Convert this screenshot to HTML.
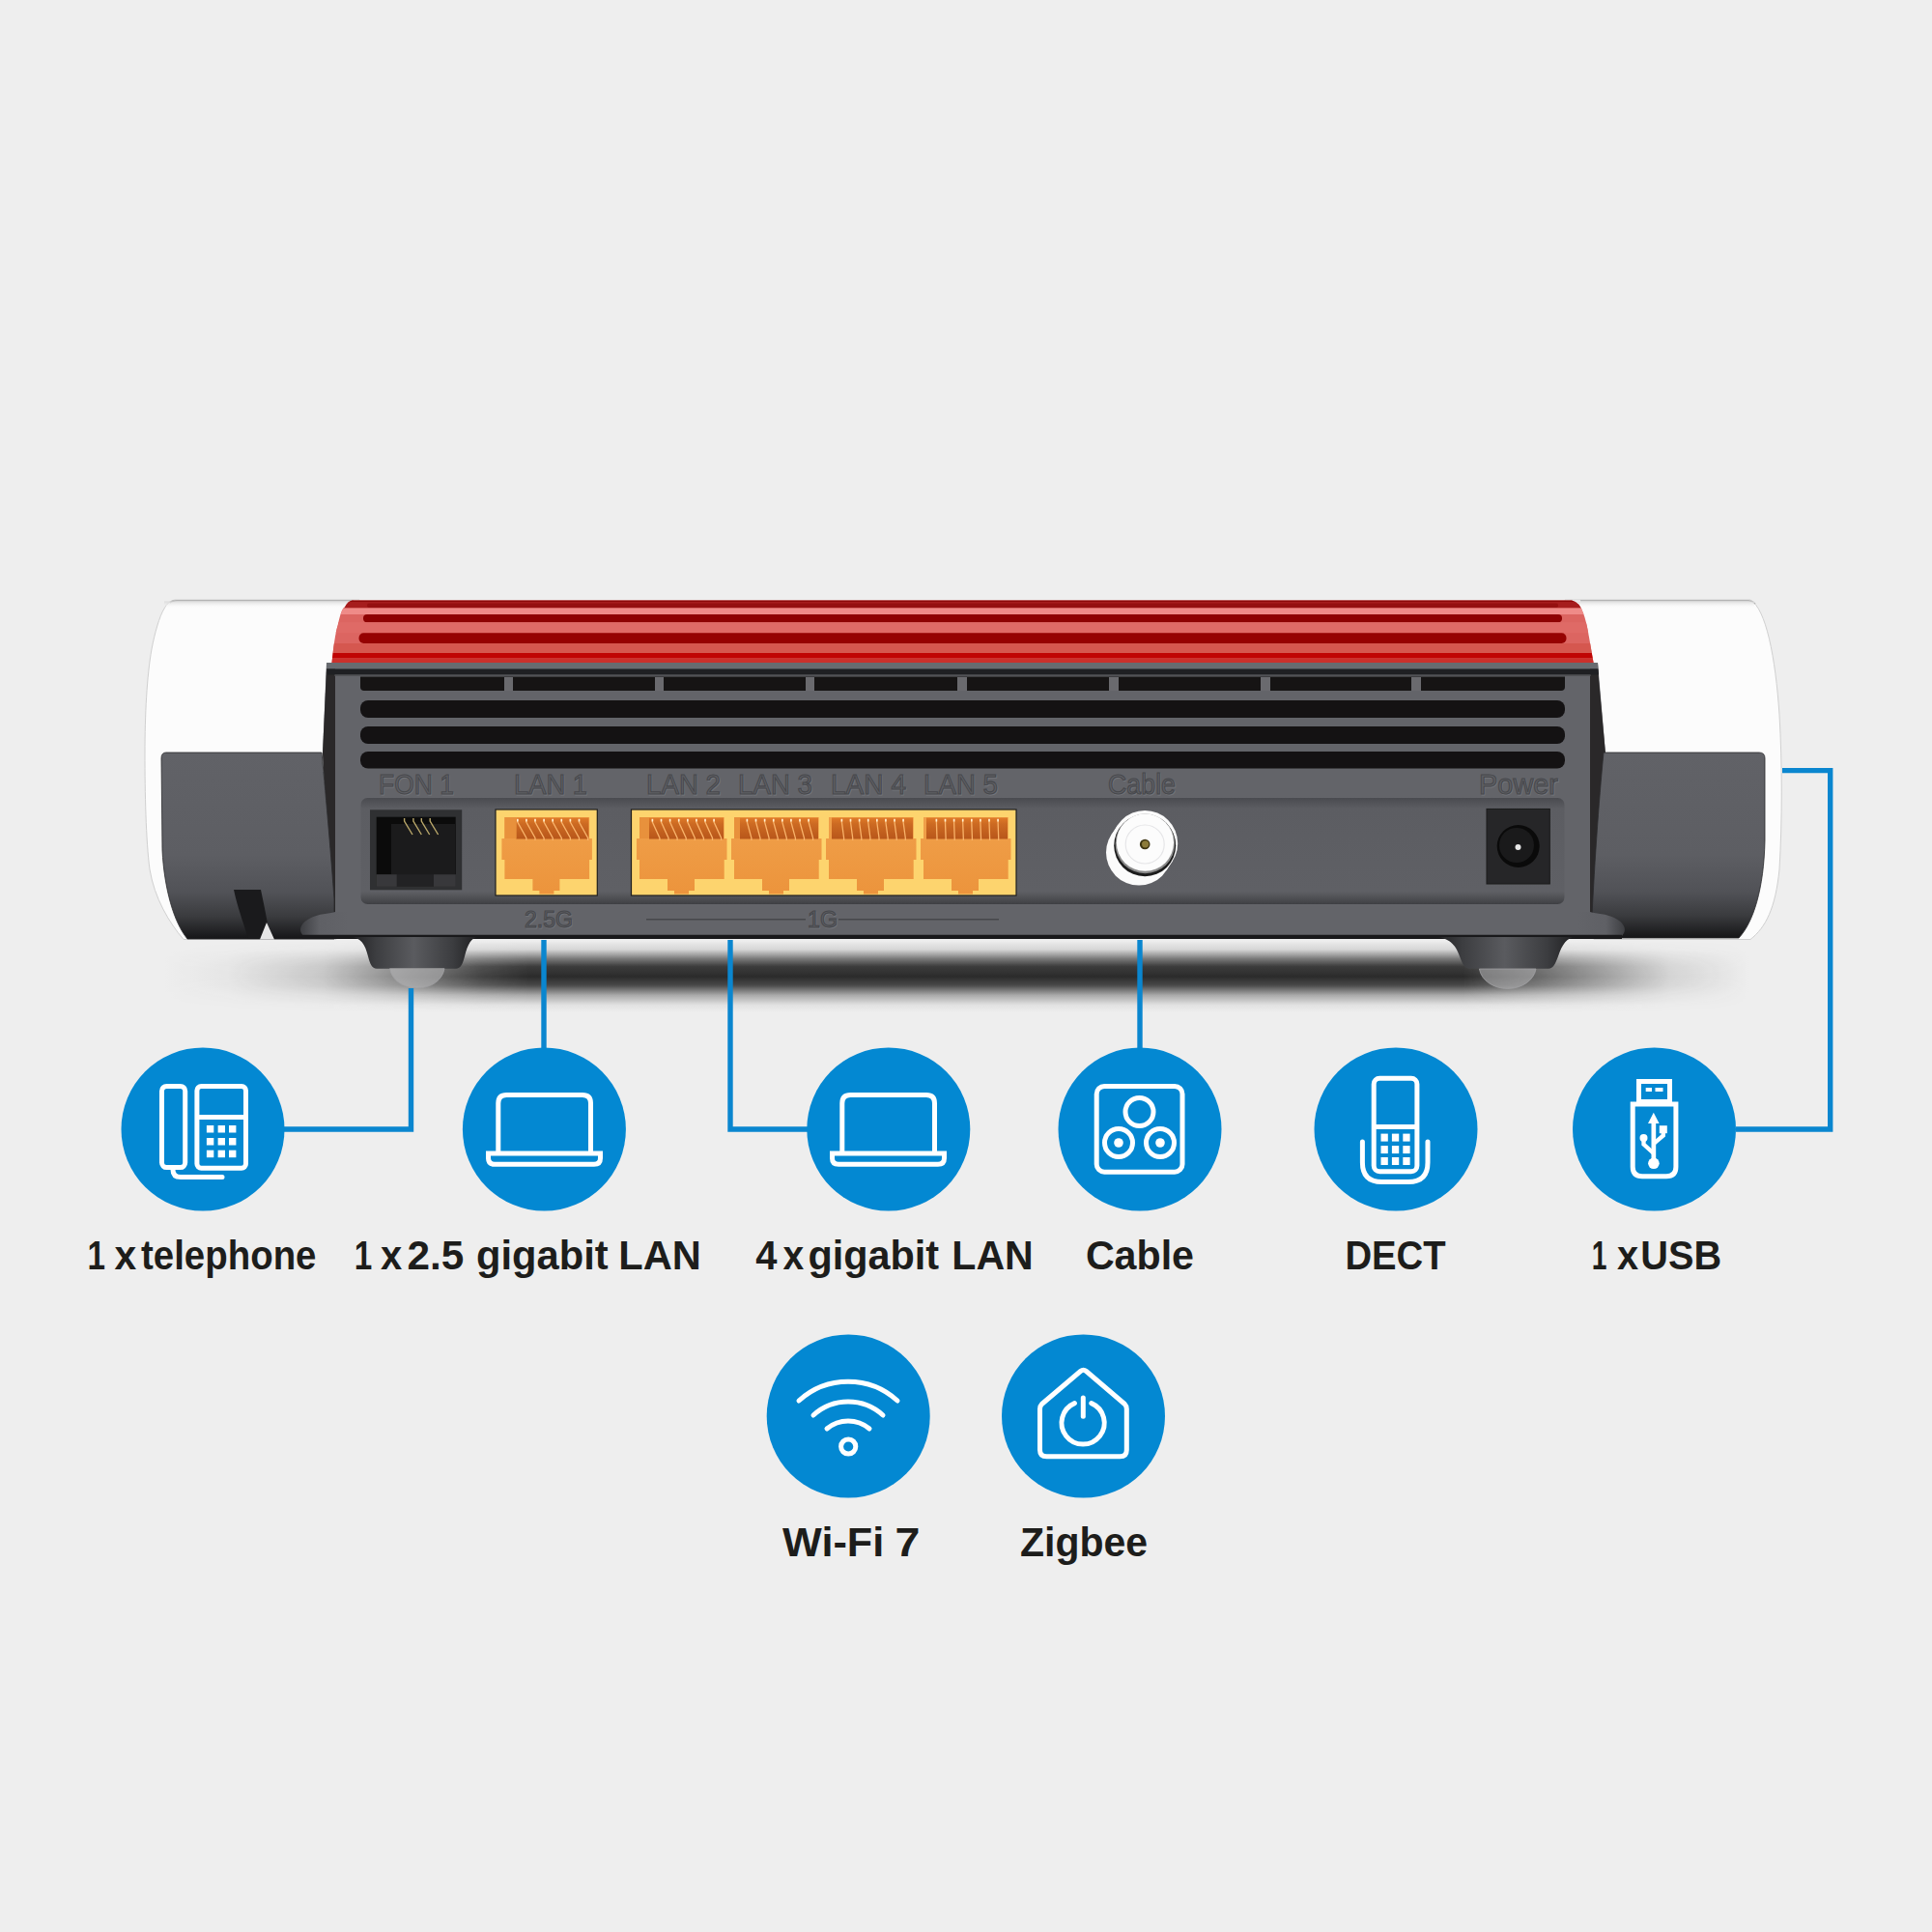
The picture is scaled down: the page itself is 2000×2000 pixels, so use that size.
<!DOCTYPE html>
<html><head><meta charset="utf-8">
<style>
html,body{margin:0;padding:0;background:#eeeeee;width:2000px;height:2000px;overflow:hidden}
svg{display:block;position:absolute;left:0;top:0}
</style></head><body>
<svg width="2000" height="2000" viewBox="0 0 2000 2000">
<defs>
  <linearGradient id="capL" x1="0" y1="0" x2="0" y2="1">
    <stop offset="0" stop-color="#616267"/><stop offset="0.55" stop-color="#5d5e63"/><stop offset="0.75" stop-color="#515257"/><stop offset="0.88" stop-color="#3a3b3e"/><stop offset="1" stop-color="#151517"/>
  </linearGradient>

  <clipPath id="redclip"><path d="M364.7 621.5 L1627 621.5 Q1635 623 1639 634.8 C1643 645 1645 660 1649.6 686 L343.5 686 C345 672 347 655 349.8 647 C352 637 354 630 357 628.6 Q360 622 364.7 621.5 Z"/></clipPath>
  <linearGradient id="orng" x1="0" y1="0" x2="0" y2="1"><stop offset="0" stop-color="#f0a04a"/><stop offset="1" stop-color="#ec943c"/></linearGradient>
  <linearGradient id="foot" x1="0" y1="0" x2="1" y2="0"><stop offset="0" stop-color="#1e1e20"/><stop offset="0.2" stop-color="#3c3d40"/><stop offset="0.5" stop-color="#5a5b5f"/><stop offset="0.8" stop-color="#3c3d40"/><stop offset="1" stop-color="#1e1e20"/></linearGradient>
  <linearGradient id="shadV2" x1="0" y1="0" x2="0" y2="1">
    <stop offset="0" stop-color="#2b2b2b" stop-opacity="0"/>
    <stop offset="0.12" stop-color="#2b2b2b" stop-opacity="0.12"/>
    <stop offset="0.25" stop-color="#2b2b2b" stop-opacity="0.6"/>
    <stop offset="0.36" stop-color="#2b2b2b" stop-opacity="0.92"/>
    <stop offset="0.5" stop-color="#2b2b2b" stop-opacity="1"/>
    <stop offset="0.62" stop-color="#2b2b2b" stop-opacity="0.85"/>
    <stop offset="0.76" stop-color="#2b2b2b" stop-opacity="0.35"/>
    <stop offset="0.9" stop-color="#2b2b2b" stop-opacity="0.06"/>
    <stop offset="1" stop-color="#2b2b2b" stop-opacity="0"/>
  </linearGradient>
  <linearGradient id="maskH" x1="0" y1="0" x2="1" y2="0">
    <stop offset="0" stop-color="#000"/>
    <stop offset="0.04" stop-color="#0a0a0a"/>
    <stop offset="0.1" stop-color="#333"/>
    <stop offset="0.15" stop-color="#888"/>
    <stop offset="0.2" stop-color="#e0e0e0"/>
    <stop offset="0.23" stop-color="#fff"/>
    <stop offset="0.82" stop-color="#fff"/>
    <stop offset="0.88" stop-color="#999"/>
    <stop offset="0.95" stop-color="#222"/>
    <stop offset="1" stop-color="#000"/>
  </linearGradient>
  <mask id="shadMask" maskUnits="userSpaceOnUse" x="170" y="974" width="1640" height="74"><rect x="170" y="974" width="1640" height="74" fill="url(#maskH)"/></mask>
  <linearGradient id="flareL" x1="0" y1="0" x2="1" y2="0"><stop offset="0" stop-color="#3d3e42"/><stop offset="0.4" stop-color="#5f6065"/><stop offset="1" stop-color="#636469"/></linearGradient>
  <linearGradient id="flareR" x1="1" y1="0" x2="0" y2="0"><stop offset="0" stop-color="#3d3e42"/><stop offset="0.4" stop-color="#5f6065"/><stop offset="1" stop-color="#636469"/></linearGradient>
  <linearGradient id="panelG" x1="0" y1="0" x2="0" y2="1">
    <stop offset="0" stop-color="#4a4b50"/><stop offset="0.1" stop-color="#5c5d62"/><stop offset="0.88" stop-color="#5f6065"/><stop offset="0.96" stop-color="#4a4b4f"/><stop offset="1" stop-color="#3e3f43"/>
  </linearGradient>
  <linearGradient id="pinbg" x1="0" y1="0" x2="0" y2="1"><stop offset="0" stop-color="#e07a28"/><stop offset="0.3" stop-color="#cc6a22"/><stop offset="1" stop-color="#b8561a"/></linearGradient>
  <linearGradient id="capTop" x1="0" y1="0" x2="0" y2="1"><stop offset="0" stop-color="#d8d8d8" stop-opacity="0.9"/><stop offset="1" stop-color="#fcfcfc" stop-opacity="0"/></linearGradient>
</defs>

<!-- SHADOW -->
<g id="shadow">
  <rect x="170" y="974" width="1640" height="74" fill="url(#shadV2)" mask="url(#shadMask)"/>
</g>
<!-- ROUTER -->
<g id="router">
  <!-- white caps -->
  <path d="M181 621 L372 621 L348 972.5 L190 972.5 C175 955 160 930 155 900 C151 870 150 820 150 780 C150 740 152 700 157 672 C160 656 165 638 170 630 Q174 622 181 621 Z" fill="#fcfcfc" stroke="#d0d0d0" stroke-width="1"/>
  <path d="M1620 621 L1812 621 C1828 630 1838 680 1842 740 C1845 790 1845 850 1842 900 C1838 940 1828 960 1812 972.5 L1650 972.5 Z" fill="#fcfcfc" stroke="#d0d0d0" stroke-width="1"/>
  <path d="M176 624 Q178 621.8 183 621.8 L366 621.8" stroke="#b4b4b4" stroke-width="1.5" fill="none"/>
  <rect x="170" y="622.5" width="195" height="7" fill="url(#capTop)"/>
  <path d="M1636 621.8 L1810 621.8 Q1814 622 1817 625" stroke="#b4b4b4" stroke-width="1.5" fill="none"/>
  <rect x="1630" y="622.5" width="186" height="7" fill="url(#capTop)"/>
  <!-- body base -->
  <path d="M338 686 L1654 686 L1662 780 L1652 972 L343 972 L334 780 Z" fill="#636469"/>
  <!-- side dark strips -->
  <path d="M338 692 L347 692 L347 946 L344 946 L334 780 Z" fill="#2a2829"/>
  <path d="M1646 692 L1654 692 L1662 780 L1650 946 L1646 946 Z" fill="#2a2829"/>
  <!-- red top -->
  <g clip-path="url(#redclip)">
    <rect x="330" y="620" width="1330" height="70" fill="#dc6561"/>
    <rect x="330" y="620" width="1330" height="3" fill="#8e0a0a"/>
    <rect x="330" y="623" width="1330" height="6.5" fill="#a61d1d"/>
    <rect x="380" y="624.5" width="1233" height="4.5" rx="2" fill="#951010"/>
    <rect x="330" y="629.5" width="1330" height="6.5" fill="#ef8b88"/>
    <rect x="376" y="636" width="1241" height="8.2" rx="4" fill="#8e0202"/>
    <rect x="330" y="644.2" width="1330" height="11" fill="#df6a66"/>
    <rect x="371.5" y="655.2" width="1250" height="10.8" rx="5" fill="#960202"/>
    <rect x="330" y="666" width="1330" height="10" fill="#d5574f"/>
    <rect x="330" y="676" width="1330" height="5.5" fill="#c00404"/>
    <rect x="330" y="681.5" width="1330" height="4.5" fill="#cb302c"/>
  </g>
  <!-- bands below red -->
  <path d="M338 686 L1654 686 L1654.5 692.6 L338.5 692.6 Z" fill="#686b70"/>
  <path d="M338.5 692.6 L1654.5 692.6 L1655 698.5 L339 698.5 Z" fill="#1f2023"/>
  <rect x="346" y="698.5" width="1301" height="1.2" fill="#4a4b4f"/>
  <!-- vents -->
  <path d="M373 700.6 L1620 700.6 L1620 711 Q1620 715 1616 715 L377 715 Q373 715 373 711 Z" fill="#161414"/>
  <g fill="#6a6a6e">
    <rect x="522" y="701" width="9" height="14"/><rect x="678" y="701" width="9" height="14"/>
    <rect x="834" y="701" width="9" height="14"/><rect x="991" y="701" width="10" height="14"/>
    <rect x="1148" y="701" width="10" height="14"/><rect x="1305" y="701" width="10" height="14"/>
    <rect x="1461" y="701" width="10" height="14"/>
  </g>
  <rect x="373" y="725" width="1247" height="18" rx="8" fill="#141213"/>
  <rect x="373" y="752" width="1247" height="18" rx="8" fill="#141213"/>
  <rect x="373" y="778" width="1247" height="17.5" rx="8" fill="#141213"/>
  <!-- body bottom flares -->
<!-- left dark cap -->
  <path d="M172 779 L333 779 C338 830 343 890 346 931 L346 972 L194 972 C180 955 170 920 168 880 L167 785 Q167 779 172 779 Z" fill="url(#capL)" stroke="#2a2a2c" stroke-width="0.8"/>
  <path d="M242 921 L270 921 Q274 940 277 956 L270 972 L257 972 C252 955 246 940 242 921 Z" fill="#1a1a1c"/>
  <path d="M269 972.5 L276 955 L284 972.5 Z" fill="#e6e6e6"/>
  <!-- right dark cap -->
  <path d="M1660 779 L1821 779 Q1827 779 1827 785 L1827 870 C1826 920 1815 955 1800 971 L1647 971 C1650 900 1655 830 1660 779 Z" fill="url(#capL)" stroke="#2a2a2c" stroke-width="0.8"/>
  <path d="M347 944 C340 946 330 946 322 950 C313 954 309 961 312 966 L314 969 L360 969 L360 944 Z" fill="url(#flareL)"/>
  <path d="M1646 944 C1653 946 1663 946 1671 950 C1680 954 1684 961 1681 966 L1679 969 L1633 969 L1633 944 Z" fill="url(#flareR)"/>
  <!-- port panel -->
  <rect x="373.5" y="826" width="1246" height="110" rx="7" fill="url(#panelG)"/>
  <!-- FON jack -->
  <rect x="383" y="838.3" width="95.2" height="83" fill="#2f3032"/>
  <rect x="389.7" y="845.7" width="82" height="59.6" fill="#0b0b0b"/>
  <rect x="405" y="853" width="66" height="52.3" fill="#1b1b1c"/>
  <rect x="389.7" y="905.3" width="82" height="12.5" fill="#222224"/>
  <rect x="389.7" y="905.3" width="21" height="12.5" fill="#38383b"/>
  <rect x="449" y="905.3" width="22.7" height="12.5" fill="#38383b"/>
  <path d="M418.6 847 L418.6 850 L427 864 M427.9 847 L427.9 850 L436.3 864 M436.3 847 L436.3 850 L444.7 864 M445.2 847 L445.2 850 L453.6 864" stroke="#b9a76a" stroke-width="1.4" fill="none"/>
  <!-- LAN1 -->
  <rect x="513" y="838" width="105.3" height="89" fill="#fdd46e" stroke="#1e1e1e" stroke-width="1.2"/>
  <path d="M522.4 846 L610.1 846 L610.1 868 L612.9 868 L612.9 890 L610.1 890 L610.1 910 L579.4 910 L579.4 922 L573.4 922 L573.4 925.6 L558.4 925.6 L558.4 922 L551.4 922 L551.4 910 L522.4 910 L522.4 890 L519.4 890 L519.4 868 L522.4 868 Z" fill="url(#orng)"/>
  <rect x="534.4" y="846.5" width="75.0" height="22" fill="url(#pinbg)"/>
  <rect x="522.4" y="846" width="12.0" height="22" fill="#e8913c"/>
  <path d="M535.8 848 L535.8 851 L544.9 867.5 L544.9 870 M544.9 848 L544.9 851 L554.0 867.5 L554.0 870 M554.0 848 L554.0 851 L563.1 867.5 L563.1 870 M563.1 848 L563.1 851 L572.2 867.5 L572.2 870 M572.2 848 L572.2 851 L581.3 867.5 L581.3 870 M581.3 848 L581.3 851 L590.4 867.5 L590.4 870 M590.4 848 L590.4 851 L599.5 867.5 L599.5 870 M599.5 848 L599.5 851 L608.6 867.5 L608.6 870 " stroke="#f9b36a" stroke-width="1.3" fill="none"/>
  <path d="M535.8 847.8 L535.8 850.5 M544.9 847.8 L544.9 850.5 M554.0 847.8 L554.0 850.5 M563.1 847.8 L563.1 850.5 M572.2 847.8 L572.2 850.5 M581.3 847.8 L581.3 850.5 M590.4 847.8 L590.4 850.5 M599.5 847.8 L599.5 850.5 " stroke="#fff0d0" stroke-width="1.6" fill="none"/>
  <!-- LAN2-5 block -->
  <rect x="653.5" y="838" width="398.5" height="89" fill="#fdd46e" stroke="#1e1e1e" stroke-width="1.2"/>
  <path d="M662.0 846 L749.7 846 L749.7 868 L752.5 868 L752.5 890 L749.7 890 L749.7 910 L719.0 910 L719.0 922 L713.0 922 L713.0 925.6 L698.0 925.6 L698.0 922 L691.0 922 L691.0 910 L662.0 910 L662.0 890 L659.0 890 L659.0 868 L662.0 868 Z" fill="url(#orng)"/>
  <rect x="672.0" y="846.5" width="77.0" height="22" fill="url(#pinbg)"/>
  <rect x="662.0" y="846" width="10.0" height="22" fill="#e8913c"/>
  <path d="M675.4 848 L675.4 851 L682.9 867.5 L682.9 870 M684.5 848 L684.5 851 L692.0 867.5 L692.0 870 M693.6 848 L693.6 851 L701.1 867.5 L701.1 870 M702.7 848 L702.7 851 L710.2 867.5 L710.2 870 M711.8 848 L711.8 851 L719.3 867.5 L719.3 870 M720.9 848 L720.9 851 L728.4 867.5 L728.4 870 M730.0 848 L730.0 851 L737.5 867.5 L737.5 870 M739.1 848 L739.1 851 L746.6 867.5 L746.6 870 " stroke="#f9b36a" stroke-width="1.3" fill="none"/>
  <path d="M675.4 847.8 L675.4 850.5 M684.5 847.8 L684.5 850.5 M693.6 847.8 L693.6 850.5 M702.7 847.8 L702.7 850.5 M711.8 847.8 L711.8 850.5 M720.9 847.8 L720.9 850.5 M730.0 847.8 L730.0 850.5 M739.1 847.8 L739.1 850.5 " stroke="#fff0d0" stroke-width="1.6" fill="none"/>
  <path d="M760.0 846 L847.7 846 L847.7 868 L850.5 868 L850.5 890 L847.7 890 L847.7 910 L817.0 910 L817.0 922 L811.0 922 L811.0 925.6 L796.0 925.6 L796.0 922 L789.0 922 L789.0 910 L760.0 910 L760.0 890 L757.0 890 L757.0 868 L760.0 868 Z" fill="url(#orng)"/>
  <rect x="766.0" y="846.5" width="81.0" height="22" fill="url(#pinbg)"/>
  <rect x="760.0" y="846" width="6.0" height="22" fill="#e8913c"/>
  <path d="M773.4 848 L773.4 851 L777.9 867.5 L777.9 870 M782.5 848 L782.5 851 L787.0 867.5 L787.0 870 M791.6 848 L791.6 851 L796.1 867.5 L796.1 870 M800.7 848 L800.7 851 L805.2 867.5 L805.2 870 M809.8 848 L809.8 851 L814.3 867.5 L814.3 870 M818.9 848 L818.9 851 L823.4 867.5 L823.4 870 M828.0 848 L828.0 851 L832.5 867.5 L832.5 870 M837.1 848 L837.1 851 L841.6 867.5 L841.6 870 " stroke="#f9b36a" stroke-width="1.3" fill="none"/>
  <path d="M773.4 847.8 L773.4 850.5 M782.5 847.8 L782.5 850.5 M791.6 847.8 L791.6 850.5 M800.7 847.8 L800.7 850.5 M809.8 847.8 L809.8 850.5 M818.9 847.8 L818.9 850.5 M828.0 847.8 L828.0 850.5 M837.1 847.8 L837.1 850.5 " stroke="#fff0d0" stroke-width="1.6" fill="none"/>
  <path d="M858.0 846 L945.7 846 L945.7 868 L948.5 868 L948.5 890 L945.7 890 L945.7 910 L915.0 910 L915.0 922 L909.0 922 L909.0 925.6 L894.0 925.6 L894.0 922 L887.0 922 L887.0 910 L858.0 910 L858.0 890 L855.0 890 L855.0 868 L858.0 868 Z" fill="url(#orng)"/>
  <rect x="861.0" y="846.5" width="84.0" height="22" fill="url(#pinbg)"/>
  <path d="M871.4 848 L871.4 851 L873.6 867.5 L873.6 870 M880.5 848 L880.5 851 L882.7 867.5 L882.7 870 M889.6 848 L889.6 851 L891.8 867.5 L891.8 870 M898.7 848 L898.7 851 L900.9 867.5 L900.9 870 M907.8 848 L907.8 851 L910.0 867.5 L910.0 870 M916.9 848 L916.9 851 L919.1 867.5 L919.1 870 M926.0 848 L926.0 851 L928.2 867.5 L928.2 870 M935.1 848 L935.1 851 L937.3 867.5 L937.3 870 " stroke="#f9b36a" stroke-width="1.3" fill="none"/>
  <path d="M871.4 847.8 L871.4 850.5 M880.5 847.8 L880.5 850.5 M889.6 847.8 L889.6 850.5 M898.7 847.8 L898.7 850.5 M907.8 847.8 L907.8 850.5 M916.9 847.8 L916.9 850.5 M926.0 847.8 L926.0 850.5 M935.1 847.8 L935.1 850.5 " stroke="#fff0d0" stroke-width="1.6" fill="none"/>
  <path d="M956.0 846 L1043.7 846 L1043.7 868 L1046.5 868 L1046.5 890 L1043.7 890 L1043.7 910 L1013.0 910 L1013.0 922 L1007.0 922 L1007.0 925.6 L992.0 925.6 L992.0 922 L985.0 922 L985.0 910 L956.0 910 L956.0 890 L953.0 890 L953.0 868 L956.0 868 Z" fill="url(#orng)"/>
  <rect x="959.0" y="846.5" width="84.0" height="22" fill="url(#pinbg)"/>
  <path d="M969.4 848 L969.4 851 L970.0 867.5 L970.0 870 M978.5 848 L978.5 851 L979.1 867.5 L979.1 870 M987.6 848 L987.6 851 L988.2 867.5 L988.2 870 M996.7 848 L996.7 851 L997.3 867.5 L997.3 870 M1005.8 848 L1005.8 851 L1006.4 867.5 L1006.4 870 M1014.9 848 L1014.9 851 L1015.5 867.5 L1015.5 870 M1024.0 848 L1024.0 851 L1024.6 867.5 L1024.6 870 M1033.1 848 L1033.1 851 L1033.7 867.5 L1033.7 870 " stroke="#f9b36a" stroke-width="1.3" fill="none"/>
  <path d="M969.4 847.8 L969.4 850.5 M978.5 847.8 L978.5 850.5 M987.6 847.8 L987.6 850.5 M996.7 847.8 L996.7 850.5 M1005.8 847.8 L1005.8 850.5 M1014.9 847.8 L1014.9 850.5 M1024.0 847.8 L1024.0 850.5 M1033.1 847.8 L1033.1 850.5 " stroke="#fff0d0" stroke-width="1.6" fill="none"/>
  <!-- cable connector -->
  <circle cx="1179" cy="882.6" r="34" fill="#fbfbfb"/>
  <path d="M1156.64 854.56 L1213.76 891.44 L1207.56 901.04 L1150.44 864.16 Z" fill="#fbfbfb"/>
  <circle cx="1185.2" cy="873" r="34" fill="#fbfbfb"/>
  <circle cx="1185.2" cy="875.3" r="32" fill="#1c1c1c"/>
  <circle cx="1185.4" cy="873.4" r="30.8" fill="#8a8a8a"/>
  <circle cx="1185.4" cy="872.2" r="29.6" fill="#fcfcfc"/>
  <circle cx="1185.2" cy="874" r="20" fill="none" stroke="#e6e6e8" stroke-width="1.2"/>
  <circle cx="1185.2" cy="874" r="5.3" fill="#3e3512"/>
  <circle cx="1185.6" cy="873.8" r="3.6" fill="#8c7b3a"/>
  <!-- power jack -->
  <rect x="1539" y="837.4" width="65.3" height="77.6" fill="#262628" stroke="#1a1a1a" stroke-width="1"/>
  <circle cx="1571.7" cy="876" r="22" fill="#0a0a0a"/>
  <circle cx="1570" cy="875" r="18" fill="#1a1a1b"/>
  <circle cx="1571.5" cy="877" r="3" fill="#e8e8e8"/>
  <!-- body bottom edge -->
  <path d="M313 967.7 L1679 967.7 L1679 972 L313 972 Z" fill="#19191b"/>
  <!-- feet -->
  <path d="M362 970 C374 970 378 978 381 990 C383 998 385 1002.7 390 1002.7 L472 1002.7 C477 1002.7 479 998 481 990 C484 978 488 970 495 970 Z" fill="url(#foot)"/>
  <path d="M403.6 1002.7 L460 1002.7 C458 1015 446 1022.9 431.8 1022.9 C417.6 1022.9 405.6 1015 403.6 1002.7 Z" fill="#b4b4b6" fill-opacity="0.6" stroke="#a0a0a2" stroke-width="0.8"/>
  <path d="M1484 970 C1500 970 1507 978 1511 990 C1514 998 1516 1002.7 1521 1002.7 L1603 1002.7 C1608 1002.7 1610 998 1613 990 C1617 978 1622 970 1631 970 Z" fill="url(#foot)"/>
  <path d="M1531.4 1003 L1590 1003 C1588 1015 1575 1023.5 1560.7 1023.5 C1546.4 1023.5 1533.4 1015 1531.4 1003 Z" fill="#b4b4b6" fill-opacity="0.55" stroke="#a0a0a2" stroke-width="0.8"/>
  <!-- embossed labels -->
  <g font-family="'Liberation Sans', sans-serif" font-size="30" fill="none" stroke="#74767b" stroke-width="1" transform="translate(0.8,0.9)">
    <text x="392" y="822" textLength="78" lengthAdjust="spacingAndGlyphs">FON 1</text>
    <text x="532" y="822" textLength="76" lengthAdjust="spacingAndGlyphs">LAN 1</text>
    <text x="669" y="822" textLength="77" lengthAdjust="spacingAndGlyphs">LAN 2</text>
    <text x="764" y="822" textLength="77" lengthAdjust="spacingAndGlyphs">LAN 3</text>
    <text x="860" y="822" textLength="78" lengthAdjust="spacingAndGlyphs">LAN 4</text>
    <text x="956" y="822" textLength="77" lengthAdjust="spacingAndGlyphs">LAN 5</text>
    <text x="1147" y="822" textLength="70" lengthAdjust="spacingAndGlyphs">Cable</text>
    <text x="1531" y="822" textLength="82" lengthAdjust="spacingAndGlyphs">Power</text>
    <text x="543" y="960" font-size="23" textLength="50" lengthAdjust="spacingAndGlyphs">2.5G</text>
    <text x="836" y="960" font-size="23" textLength="31" lengthAdjust="spacingAndGlyphs">1G</text>
  </g>
  <g font-family="'Liberation Sans', sans-serif" font-size="30" fill="#5f6065" stroke="#47484c" stroke-width="1.1">
    <text x="392" y="822" textLength="78" lengthAdjust="spacingAndGlyphs">FON 1</text>
    <text x="532" y="822" textLength="76" lengthAdjust="spacingAndGlyphs">LAN 1</text>
    <text x="669" y="822" textLength="77" lengthAdjust="spacingAndGlyphs">LAN 2</text>
    <text x="764" y="822" textLength="77" lengthAdjust="spacingAndGlyphs">LAN 3</text>
    <text x="860" y="822" textLength="78" lengthAdjust="spacingAndGlyphs">LAN 4</text>
    <text x="956" y="822" textLength="77" lengthAdjust="spacingAndGlyphs">LAN 5</text>
    <text x="1147" y="822" textLength="70" lengthAdjust="spacingAndGlyphs">Cable</text>
    <text x="1531" y="822" textLength="82" lengthAdjust="spacingAndGlyphs">Power</text>
    <text x="543" y="960" font-size="23" textLength="50" lengthAdjust="spacingAndGlyphs">2.5G</text>
    <text x="836" y="960" font-size="23" textLength="31" lengthAdjust="spacingAndGlyphs">1G</text>
  </g>
  <rect x="669" y="951" width="165" height="1.5" fill="#46474b"/>
  <rect x="868" y="951" width="166" height="1.5" fill="#46474b"/>
</g>

<!-- CONNECTOR LINES -->
<g stroke="#0a86cf" stroke-width="5.4" fill="none">
  <path d="M425.5 1023 L425.5 1169 L294 1169"/>
  <path d="M563 973 L563 1085"/>
  <path d="M756 973 L756 1169 L836 1169"/>
  <path d="M1180 973 L1180 1085"/>
  <path d="M1797 1169 L1894.7 1169 L1894.7 797.6 L1845 797.6"/>
</g>

<!-- CIRCLES -->
<g fill="#0388d2">
  <circle cx="210" cy="1169" r="84.5"/>
  <circle cx="563.4" cy="1169" r="84.5"/>
  <circle cx="919.8" cy="1169" r="84.5"/>
  <circle cx="1180" cy="1169" r="84.5"/>
  <circle cx="1445" cy="1169" r="84.5"/>
  <circle cx="1712.5" cy="1169" r="84.5"/>
  <circle cx="878.2" cy="1466" r="84.5"/>
  <circle cx="1121.5" cy="1466" r="84.5"/>
</g>


<!-- ICONS -->
<g stroke="#fff" stroke-width="5" fill="none" stroke-linecap="round" stroke-linejoin="round">
  <!-- telephone -->
  <rect x="167.5" y="1124.4" width="24.2" height="84.2" rx="5"/>
  <rect x="203.9" y="1124.4" width="50.6" height="84.8" rx="4.5"/>
  <line x1="204" y1="1156.5" x2="254" y2="1156.5" stroke-linecap="butt"/>
  <path d="M179 1209 L179 1211 Q179 1218.6 187 1218.6 L230 1218.6"/>
  <!-- laptop 1 -->
  <path d="M515.8 1193 L515.8 1142 Q515.8 1133.5 524.3 1133.5 L603 1133.5 Q611.5 1133.5 611.5 1142 L611.5 1193"/>
  <path d="M505.5 1194 L621.5 1194 L621.5 1199 Q621.5 1205.3 615 1205.3 L512 1205.3 Q505.5 1205.3 505.5 1199 Z" stroke-linejoin="miter"/>
  <!-- laptop 2 -->
  <path d="M871.8 1193 L871.8 1142 Q871.8 1133.5 880.3 1133.5 L959 1133.5 Q967.5 1133.5 967.5 1142 L967.5 1193"/>
  <path d="M861.5 1194 L977.5 1194 L977.5 1199 Q977.5 1205.3 971 1205.3 L868 1205.3 Q861.5 1205.3 861.5 1199 Z" stroke-linejoin="miter"/>
  <!-- cable -->
  <rect x="1135.2" y="1124.5" width="88.8" height="88.7" rx="8"/>
  <circle cx="1179.5" cy="1151" r="14.5"/>
  <circle cx="1158" cy="1183" r="14.5"/>
  <circle cx="1201" cy="1183" r="14.5"/>
  <!-- DECT -->
  <rect x="1422.2" y="1116.2" width="44.7" height="96.6" rx="6"/>
  <line x1="1422" y1="1166.4" x2="1467" y2="1166.4" stroke-linecap="butt"/>
  <path d="M1410.4 1182 L1410.4 1203.5 Q1410.4 1223.5 1430.4 1223.5 L1458 1223.5 Q1478 1223.5 1478 1203.5 L1478 1182"/>
  <!-- USB -->
  <rect x="1696.5" y="1119.5" width="32" height="21" stroke-linejoin="miter"/>
  <path d="M1690.2 1143 L1734.9 1143 L1734.9 1208 Q1734.9 1217.8 1725 1217.8 L1700 1217.8 Q1690.2 1217.8 1690.2 1208 Z" stroke-linejoin="miter"/>
  <!-- wifi -->
  <path d="M827 1450 A75.9 75.9 0 0 1 929 1450"/>
  <path d="M842 1465 A53.3 53.3 0 0 1 914 1465"/>
  <path d="M856 1479 A34.25 34.25 0 0 1 900 1479"/>
  <circle cx="878.2" cy="1497.5" r="7.6"/>
  <!-- zigbee -->
  <path d="M1124.5 1419.5 Q1121.5 1417 1118.5 1419.5 L1078.5 1453.5 Q1076.5 1455.5 1076.5 1458.5 L1076.5 1501 Q1076.5 1507.8 1083.5 1507.8 L1159.5 1507.8 Q1166.3 1507.8 1166.3 1501 L1166.3 1458.5 Q1166.3 1455.5 1164.3 1453.5 Z"/>
  <path d="M1112.4 1452.6 A22.1 22.1 0 1 0 1129.8 1452.6"/>
  <line x1="1121.3" y1="1447" x2="1121.3" y2="1466.3"/>
</g>
<g fill="#fff">
  <rect x="213.9" y="1165" width="7.4" height="7.5"/><rect x="225.6" y="1165" width="7.4" height="7.5"/><rect x="237" y="1165" width="7.4" height="7.5"/>
  <rect x="213.9" y="1178" width="7.4" height="7.5"/><rect x="225.6" y="1178" width="7.4" height="7.5"/><rect x="237" y="1178" width="7.4" height="7.5"/>
  <rect x="213.9" y="1190.7" width="7.4" height="7.5"/><rect x="225.6" y="1190.7" width="7.4" height="7.5"/><rect x="237" y="1190.7" width="7.4" height="7.5"/>
  <rect x="1429.5" y="1173.6" width="7.3" height="8"/><rect x="1440.9" y="1173.6" width="7.3" height="8"/><rect x="1452.3" y="1173.6" width="7.3" height="8"/>
  <rect x="1429.5" y="1186.1" width="7.3" height="8"/><rect x="1440.9" y="1186.1" width="7.3" height="8"/><rect x="1452.3" y="1186.1" width="7.3" height="8"/>
  <rect x="1429.5" y="1198" width="7.3" height="8"/><rect x="1440.9" y="1198" width="7.3" height="8"/><rect x="1452.3" y="1198" width="7.3" height="8"/>
  <circle cx="1158" cy="1183" r="4.8"/><circle cx="1201" cy="1183" r="4.8"/>
  <rect x="1703.7" y="1126" width="6.3" height="4"/><rect x="1713.5" y="1126" width="8" height="4"/>
  <!-- usb trident -->
  <path d="M1711.8 1151.8 L1717.6 1163 L1714.2 1163 L1714.2 1200 L1709.5 1200 L1709.5 1163 L1706 1163 Z"/>
  <circle cx="1711.9" cy="1204.3" r="5.8"/>
  <circle cx="1701.5" cy="1177.9" r="4"/>
  <rect x="1717.8" y="1165.2" width="8" height="8"/>
</g>
<g stroke="#fff" stroke-width="4.3" fill="none" stroke-linejoin="miter">
  <path d="M1711.9 1194 L1701.5 1184.5 L1701.5 1178"/>
  <path d="M1711.9 1184 L1721.8 1175.4 L1721.8 1170"/>
</g>

<!-- LABELS -->
<g font-family="'Liberation Sans', sans-serif" font-weight="bold" font-size="42" fill="#1d1d1b">
  <text x="90.4" y="1314" textLength="18.5" lengthAdjust="spacingAndGlyphs">1</text>
  <text x="118.4" y="1314" textLength="22.7" lengthAdjust="spacingAndGlyphs">x</text>
  <text x="146.0" y="1314" textLength="181.5" lengthAdjust="spacingAndGlyphs">telephone</text>
  <text x="366.8" y="1314" textLength="18.5" lengthAdjust="spacingAndGlyphs">1</text>
  <text x="393.9" y="1314" textLength="22.2" lengthAdjust="spacingAndGlyphs">x</text>
  <text x="421.4" y="1314" textLength="58.8" lengthAdjust="spacingAndGlyphs">2.5</text>
  <text x="493.0" y="1314" textLength="136.6" lengthAdjust="spacingAndGlyphs">gigabit</text>
  <text x="640.2" y="1314" textLength="85.6" lengthAdjust="spacingAndGlyphs">LAN</text>
  <text x="782.3" y="1314" textLength="22.2" lengthAdjust="spacingAndGlyphs">4</text>
  <text x="810.4" y="1314" textLength="21.7" lengthAdjust="spacingAndGlyphs">x</text>
  <text x="836.5" y="1314" textLength="135.6" lengthAdjust="spacingAndGlyphs">gigabit</text>
  <text x="985.3" y="1314" textLength="84.5" lengthAdjust="spacingAndGlyphs">LAN</text>
  <text x="1123.9" y="1314" textLength="112.1" lengthAdjust="spacingAndGlyphs">Cable</text>
  <text x="1392.4" y="1314" textLength="104.2" lengthAdjust="spacingAndGlyphs">DECT</text>
  <text x="1647.7" y="1314" textLength="15.7" lengthAdjust="spacingAndGlyphs">1</text>
  <text x="1674.0" y="1314" textLength="22.1" lengthAdjust="spacingAndGlyphs">x</text>
  <text x="1698.3" y="1314" textLength="83.8" lengthAdjust="spacingAndGlyphs">USB</text>
  <text x="810.0" y="1611.4" textLength="105.2" lengthAdjust="spacingAndGlyphs">Wi-Fi</text>
  <text x="926.5" y="1611.4" textLength="25.9" lengthAdjust="spacingAndGlyphs">7</text>
  <text x="1056.0" y="1611.4" textLength="132.1" lengthAdjust="spacingAndGlyphs">Zigbee</text>
</g>
</svg>
</body></html>
